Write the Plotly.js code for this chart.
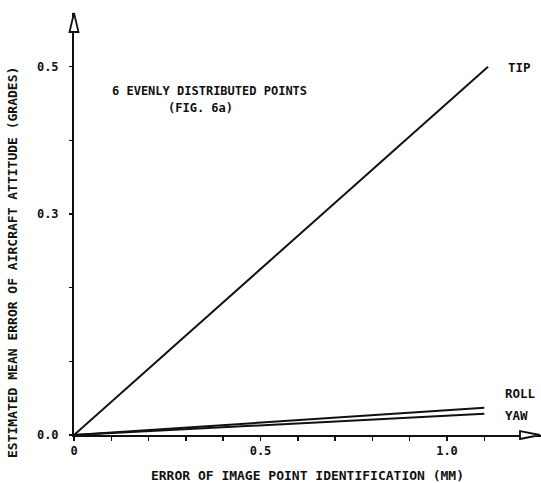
<!DOCTYPE html>
<html>
<head>
<meta charset="utf-8">
<script src="https://cdn.plot.ly/plotly-3.0.1.min.js"></script>
<style>html,body{margin:0;padding:0;background:#fff;}#chart{width:541px;height:483px;}</style>
</head>
<body>
<div id="chart"></div>
<script>
// ---- data ----
var tipErrorMM = [0, 1.11];
var tipValues = [0, 0.5];
var rollYawErrorMM = [0, 1.1];
var rollValues = [0, 0.037];
var yawValues = [0, 0.029];
var seriesNames = ["TIP", "ROLL", "YAW"];
var xTickVals = [0, 0.1, 0.2, 0.3, 0.4, 0.5, 0.6, 0.7, 0.8, 0.9, 1.0, 1.1];
var xTickText = ["0", "", "", "", "", "0.5", "", "", "", "", "1.0", ""];
var yTickVals = [0, 0.1, 0.2, 0.3, 0.4, 0.5];
var yTickText = ["0.0", "", "", "0.3", "", "0.5"];
var xTitle = "ERROR OF IMAGE POINT IDENTIFICATION (MM)";
var yTitle = "ESTIMATED MEAN ERROR OF AIRCRAFT ATTITUDE (GRADES)";
var noteLine1 = "6 EVENLY DISTRIBUTED POINTS";
var noteLine2 = "(FIG. 6a)";

var FONT = "DejaVu Sans Mono, monospace";
var ink = "#111111";

var lineStyle = {color: ink, width: 2};
var traces = [
  {x: tipErrorMM, y: tipValues, name: seriesNames[0], mode: "lines", line: lineStyle},
  {x: rollYawErrorMM, y: rollValues, name: seriesNames[1], mode: "lines", line: lineStyle},
  {x: rollYawErrorMM, y: yawValues, name: seriesNames[2], mode: "lines", line: lineStyle}
];

var W = 541, H = 483;
var margin = {l: 74, r: 0, t: 13, b: 48};
var plotW = W - margin.l - margin.r;
var plotH = H - margin.t - margin.b;
var pxPerX = 373;     // pixels per mm
var pxPerY = 736.7;   // pixels per grade

function lbl(text, x, y, xanchor) {
  return {text: text, x: x, y: y, xref: "x", yref: "y", showarrow: false,
    xanchor: xanchor || "left", yanchor: "middle",
    font: {family: FONT, size: 12.5, color: ink, weight: "bold"}};
}

var layout = {
  width: W, height: H,
  margin: margin,
  paper_bgcolor: "#ffffff",
  plot_bgcolor: "#ffffff",
  showlegend: false,
  font: {family: FONT, color: ink, size: 12, weight: "bold"},
  xaxis: {
    range: [0, plotW / pxPerX],
    tickmode: "array", tickvals: xTickVals, ticktext: xTickText,
    ticks: "outside", ticklen: 4, tickwidth: 1.5, tickcolor: ink,
    showline: true, linewidth: 2, linecolor: ink,
    showgrid: false, zeroline: false,
    ticklabelstandoff: 0,
    tickfont: {family: FONT, size: 12, color: ink, weight: "bold"},
    title: {text: xTitle, standoff: 15, font: {family: FONT, size: 13, color: ink, weight: "bold"}}
  },
  yaxis: {
    range: [0, plotH / pxPerY],
    tickmode: "array", tickvals: yTickVals, ticktext: yTickText,
    ticks: "outside", ticklen: 3, tickwidth: 1.5, tickcolor: ink,
    showline: true, linewidth: 2, linecolor: ink,
    showgrid: false, zeroline: false,
    ticklabelstandoff: 8,
    tickfont: {family: FONT, size: 12, color: ink, weight: "bold"}
  },
  annotations: [
    lbl(seriesNames[0], 1.158, 0.4995),
    lbl(seriesNames[1], 1.150, 0.057),
    lbl(seriesNames[2], 1.150, 0.027),
    {text: noteLine1, x: 0.362, y: 0.467, xref: "x", yref: "y", showarrow: false,
      xanchor: "center", yanchor: "middle",
      font: {family: FONT, size: 12, color: ink, weight: "bold"}},
    {text: noteLine2, x: 0.338, y: 0.4445, xref: "x", yref: "y", showarrow: false,
      xanchor: "center", yanchor: "middle",
      font: {family: FONT, size: 12, color: ink, weight: "bold"}},
    {text: yTitle, x: (12 - margin.l) / plotW, y: (H - margin.b - 263) / plotH,
      xref: "paper", yref: "paper", showarrow: false, textangle: -90,
      xanchor: "center", yanchor: "middle",
      font: {family: FONT, size: 13, color: ink, weight: "bold"}}
  ],
  shapes: [
    // hollow arrowhead at the end of the x axis
    {type: "path", xref: "paper", yref: "paper", xsizemode: "pixel", ysizemode: "pixel",
      xanchor: 1, yanchor: 0, path: "M -21,-4 L -1,0 L -21,4 Z",
      fillcolor: "#ffffff", line: {color: ink, width: 1.8}},
    // hollow arrowhead at the top of the y axis
    {type: "path", xref: "paper", yref: "paper", xsizemode: "pixel", ysizemode: "pixel",
      xanchor: 0, yanchor: 1, path: "M -4.5,-19 L 0,0 L 4.5,-19 Z",
      fillcolor: "#ffffff", line: {color: ink, width: 1.8}}
  ]
};

Plotly.newPlot("chart", traces, layout, {displayModeBar: false, staticPlot: true});
</script>
</body>
</html>
